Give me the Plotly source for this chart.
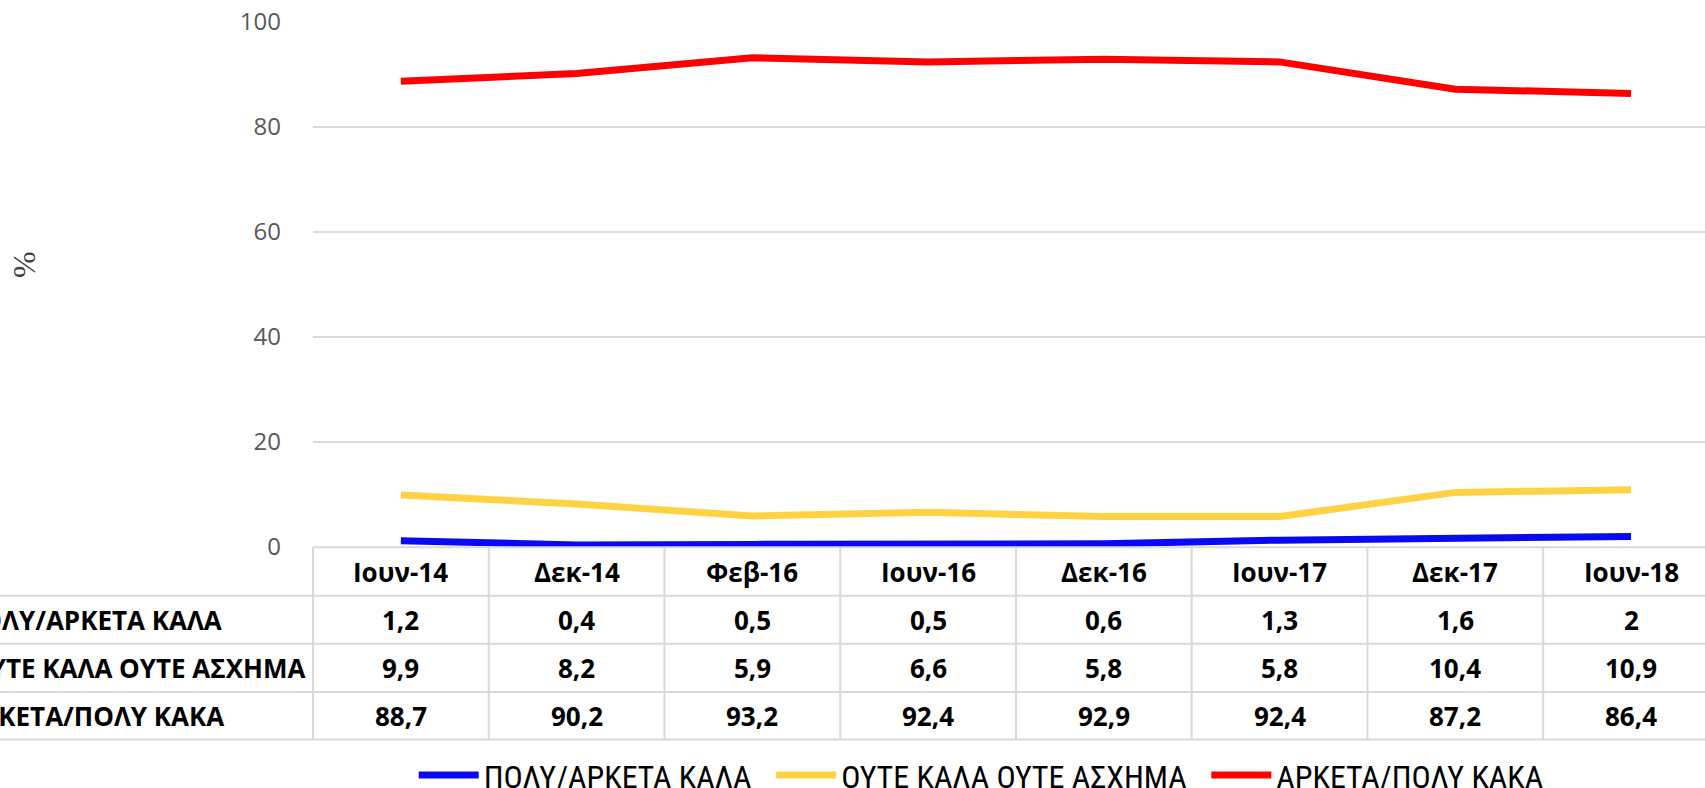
import plotly.graph_objects as go

categories = ["Ιουν-14", "Δεκ-14", "Φεβ-16", "Ιουν-16", "Δεκ-16", "Ιουν-17", "Δεκ-17", "Ιουν-18"]
series_names = ["ΠΟΛΥ/ΑΡΚΕΤΑ ΚΑΛΑ", "ΟΥΤΕ ΚΑΛΑ ΟΥΤΕ ΑΣΧΗΜΑ", "ΑΡΚΕΤΑ/ΠΟΛΥ ΚΑΚΑ"]
good = [1.2, 0.4, 0.5, 0.5, 0.6, 1.3, 1.6, 2]
neutral = [9.9, 8.2, 5.9, 6.6, 5.8, 5.8, 10.4, 10.9]
bad = [88.7, 90.2, 93.2, 92.4, 92.9, 92.4, 87.2, 86.4]
colors = ["#0A0AF2", "#FFD243", "#FF0000"]
y_ticks = [0, 20, 40, 60, 80, 100]

W, H = 1705, 788
L, T = 313.3, 21.7
B_px = 546.7
plot_w = W - L
plot_h = B_px - T
col_w = 175.7
x0 = -0.5
x1 = x0 + plot_w / col_w

def xp(v):
    return (v - x0) / (x1 - x0)

def yp(px):
    return (B_px - px) / plot_h

fig = go.Figure()
xs = list(range(len(categories)))
for name, vals, c in zip(series_names, [good, neutral, bad], colors):
    fig.add_trace(go.Scatter(x=xs, y=vals, mode="lines", name=name + "\u00a0\u00a0",
                             line=dict(color=c, width=7), hoverinfo="skip"))

grid = "#D9D9D9"
shapes = []
row_px = [547, 595.5, 643.5, 691.7, 739.3]
shapes.append(dict(type="line", xref="paper", yref="paper", x0=0, x1=1.02,
                   y0=yp(row_px[0]), y1=yp(row_px[0]), line=dict(color=grid, width=2)))
for rp in row_px[1:]:
    shapes.append(dict(type="line", xref="paper", yref="paper", x0=-L / plot_w, x1=1.02,
                       y0=yp(rp), y1=yp(rp), line=dict(color=grid, width=2)))
for k in range(len(categories)):
    xv = xp(k - 0.5)
    shapes.append(dict(type="line", xref="paper", yref="paper", x0=xv, x1=xv,
                       y0=yp(row_px[0]), y1=yp(row_px[-1]), line=dict(color=grid, width=2)))

annotations = []
tfont = dict(family="Open Sans", size=26, color="#000000")
hdr_y = yp((row_px[0] + row_px[1]) / 2)
for i, cat in enumerate(categories):
    annotations.append(dict(x=xp(i), y=hdr_y, xref="paper", yref="paper", text="<b>%s</b>" % cat,
                            showarrow=False, font=tfont, xanchor="center", yanchor="middle"))
label_right = [224, 307, 226]
for r, (name, vals) in enumerate(zip(series_names, [good, neutral, bad])):
    yc = yp((row_px[r + 1] + row_px[r + 2]) / 2)
    annotations.append(dict(x=(label_right[r] - L) / plot_w, y=yc, xref="paper", yref="paper",
                            text="<b>%s</b>" % name, showarrow=False, font=tfont,
                            xanchor="right", yanchor="middle"))
    for i, v in enumerate(vals):
        annotations.append(dict(x=xp(i), y=yc, xref="paper", yref="paper",
                                text="<b>%s</b>" % str(v).replace(".", ","),
                                showarrow=False, font=tfont, xanchor="center", yanchor="middle"))

annotations.append(dict(x=(25 - L) / plot_w, y=yp(264), xref="paper", yref="paper", text="%",
                        showarrow=False, textangle=-90,
                        font=dict(family="Liberation Serif", size=32, color="#404040"),
                        xanchor="center", yanchor="middle"))

fig.update_layout(
    width=W, height=H,
    margin=dict(l=L, r=0, t=T, b=H - B_px, pad=0, autoexpand=False),
    paper_bgcolor="white", plot_bgcolor="white",
    showlegend=True,
    legend=dict(orientation="h", x=(414 - L) / plot_w, y=yp(775), xanchor="left", yanchor="middle",
                font=dict(family="Liberation Sans Narrow, Roboto Condensed, Open Sans", size=32, color="#000000"),
                itemwidth=60, tracegroupgap=0, bgcolor="rgba(0,0,0,0)"),
    xaxis=dict(range=[x0, x1], showticklabels=False, showgrid=False, zeroline=False,
               showline=False, ticks=""),
    yaxis=dict(range=[0, 100], tickvals=y_ticks, showgrid=True, gridcolor=grid, gridwidth=2,
               zeroline=False, showline=False, ticks="", ticklabelstandoff=31,
               tickfont=dict(family="Open Sans", size=24, color="#595959")),
    shapes=shapes, annotations=annotations,
)
fig.write_html("out.html", config={"displayModeBar": False},
               post_script="document.body.style.margin='0px';document.body.style.overflow='hidden';")
